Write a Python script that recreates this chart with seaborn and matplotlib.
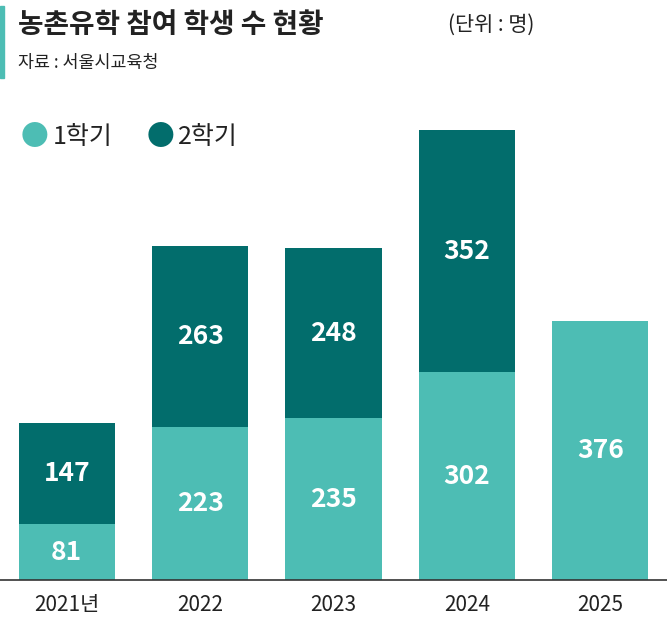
import matplotlib
matplotlib.use("Agg")
import matplotlib.pyplot as plt
import seaborn as sns
import pandas as pd

years = ["2021년", "2022", "2023", "2024", "2025"]
sem1 = [81, 223, 235, 302, 376]
sem2 = [147, 263, 248, 352, 0]

light = "#4dbdb4"
dark = "#026d6c"
plt.rcParams["font.family"] = ["Noto Sans CJK KR", "Noto Sans CJK JP", "Noto Sans CJK SC", "DejaVu Sans"]

fig = plt.figure(figsize=(6.67, 6.32), dpi=100)
ax = fig.add_axes([0, 52/632, 1, 481.6/632])

df = pd.DataFrame({"year": years, "s1": sem1, "s2": sem2, "tot": [a + b for a, b in zip(sem1, sem2)]})
sns.barplot(data=df, x="year", y="tot", color=dark, width=0.72, ax=ax, saturation=1)
sns.barplot(data=df, x="year", y="s1", color=light, width=0.72, ax=ax, saturation=1)

for i, (a, b) in enumerate(zip(sem1, sem2)):
    ax.text(i, a / 2, str(a), ha="center", va="center", color="white", fontsize=19, fontweight="bold")
    if b:
        ax.text(i, a + b / 2, str(b), ha="center", va="center", color="white", fontsize=19, fontweight="bold")

ax.set_xlim(-0.5, 4.5)
ax.set_ylim(0, 700)
ax.set_xlabel(""); ax.set_ylabel("")
ax.set_yticks([])
for s in ["top", "right", "left"]:
    ax.spines[s].set_visible(False)
ax.spines["bottom"].set_color("#333333")
ax.spines["bottom"].set_linewidth(1.2)
ax.tick_params(axis="x", length=0, labelsize=15, pad=10, colors="#222222")

fig.patches.append(plt.Rectangle((0, 1 - 78/632), 4/667, 72/632, transform=fig.transFigure, color=light))
fig.text(18/667, 1 - 25/632, "농촌유학 참여 학생 수 현황", fontsize=20, fontweight="bold", va="center", color="#222222")
fig.text(448/667, 1 - 25/632, "(단위 : 명)", fontsize=15, va="center", color="#222222")
fig.text(18/667, 1 - 63/632, "자료 : 서울시교육청", fontsize=12.5, va="center", color="#222222")

for x, lbl, c in [(35, "1학기", light), (160, "2학기", dark)]:
    fig.text(x/667, 1 - 137/632, "●", color=c, fontsize=20, ha="center", va="center")
    fig.text((x + 18)/667, 1 - 137/632, lbl, color="#222222", fontsize=18, va="center")

fig.savefig("out.png", dpi=100)
